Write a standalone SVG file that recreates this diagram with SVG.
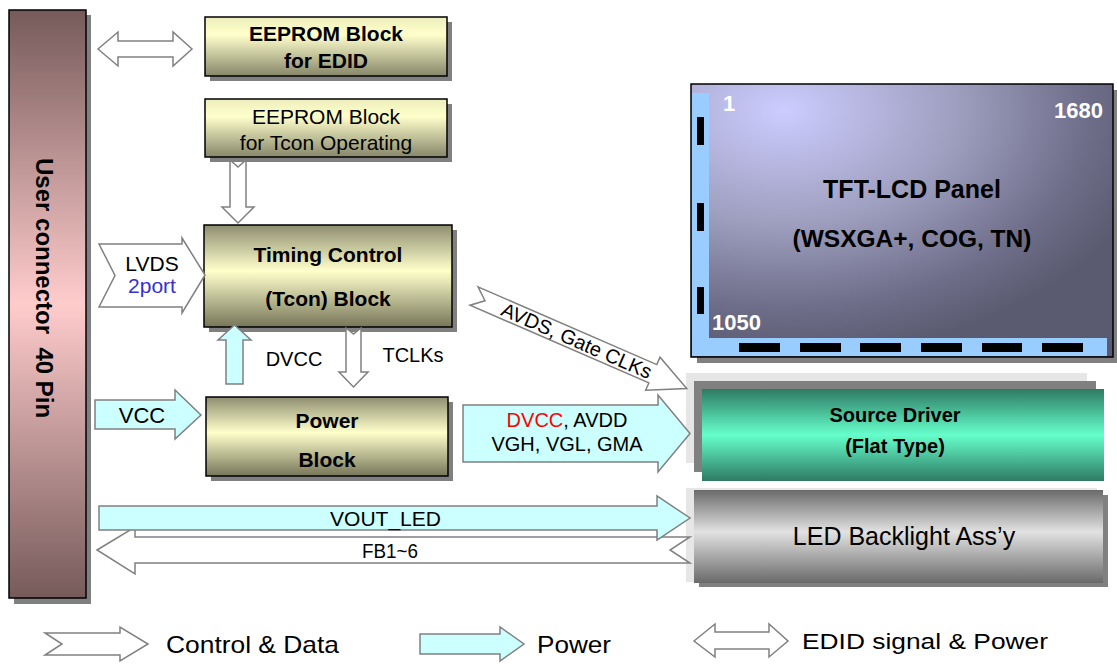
<svg xmlns="http://www.w3.org/2000/svg" width="1117" height="664" viewBox="0 0 1117 664">
<style>
text{font-family:"Liberation Sans",Arial,sans-serif;fill:#000}
.b{font-weight:bold}
.c{text-anchor:middle}
.w{fill:#fff;font-weight:bold}
.box{stroke:#000;stroke-width:1.5}
.sh{fill:#808080}
.ctl{fill:#fff;stroke:#808080;stroke-width:1.5;stroke-linejoin:miter}
.pwr{fill:#ccffff;stroke:#808080;stroke-width:1.5;stroke-linejoin:miter}
.tick{fill:#000}
</style>
<defs>
<linearGradient id="gUser" x1="0" y1="0" x2="0" y2="1">
<stop offset="0" stop-color="#765a5a"/><stop offset="0.5" stop-color="#ffcccc"/><stop offset="1" stop-color="#765a5a"/>
</linearGradient>
<linearGradient id="gYel" x1="0" y1="0" x2="0" y2="1">
<stop offset="0" stop-color="#8e8e70"/><stop offset="0.45" stop-color="#ffffcc"/><stop offset="1" stop-color="#76765a"/>
</linearGradient>
<linearGradient id="gYel2" x1="0" y1="0" x2="0" y2="1">
<stop offset="0" stop-color="#eeeebc"/><stop offset="0.3" stop-color="#ffffcc"/><stop offset="1" stop-color="#86866a"/>
</linearGradient>
<radialGradient id="gPanel" cx="0.22" cy="0.1" r="0.9" fx="0.22" fy="0.1">
<stop offset="0" stop-color="#ccccff"/><stop offset="0.45" stop-color="#9f9fc0"/><stop offset="0.8" stop-color="#6e6e8a"/><stop offset="1" stop-color="#5a5a70"/>
</radialGradient>
<linearGradient id="gGreen" x1="0" y1="0" x2="0" y2="1">
<stop offset="0" stop-color="#2e7a62"/><stop offset="0.5" stop-color="#66ffcc"/><stop offset="1" stop-color="#2e7a62"/>
</linearGradient>
<linearGradient id="gGray" x1="0" y1="0" x2="0" y2="1">
<stop offset="0" stop-color="#6a6a6a"/><stop offset="0.45" stop-color="#e2e2e2"/><stop offset="1" stop-color="#6a6a6a"/>
</linearGradient>
</defs>

<g id="user-connector">
<rect class="sh" x="14" y="15" width="77" height="589"/>
<rect class="box" x="9" y="10" width="77" height="588" fill="url(#gUser)"/>
<text class="b" x="158" y="-36" transform="rotate(90)" font-size="24" xml:space="preserve">User connector  40 Pin</text>
</g>

<g id="eeprom-edid">
<rect class="sh" x="210" y="22" width="242" height="59"/>
<rect class="box" x="205" y="17" width="242" height="59" fill="url(#gYel2)"/>
<text class="b c" x="326" y="41" font-size="21">EEPROM Block</text>
<text class="b c" x="326" y="68" font-size="21">for EDID</text>
</g>

<g id="eeprom-tcon">
<rect class="sh" x="210" y="104" width="242" height="58"/>
<rect class="box" x="205" y="99" width="242" height="58" fill="url(#gYel2)"/>
<text class="c" x="326" y="124" font-size="21">EEPROM Block</text>
<text class="c" x="326" y="150" font-size="21">for Tcon Operating</text>
</g>

<g id="timing-control">
<rect class="sh" x="209" y="230" width="248" height="102"/>
<rect class="box" x="204" y="225" width="248" height="102" fill="url(#gYel)"/>
<text class="b c" x="328" y="262" font-size="21">Timing Control</text>
<text class="b c" x="328" y="306" font-size="21">(Tcon) Block</text>
</g>

<g id="power-block">
<rect class="sh" x="211" y="402" width="242" height="79"/>
<rect class="box" x="206" y="397" width="242" height="79" fill="url(#gYel)"/>
<text class="b c" x="327" y="428" font-size="21">Power</text>
<text class="b c" x="327" y="467" font-size="21">Block</text>
</g>

<g id="tft-panel">
<rect class="sh" x="697" y="90" width="420" height="273"/>
<rect x="691" y="84" width="422" height="273" fill="url(#gPanel)" stroke="#000" stroke-width="1.5"/>
<rect x="692" y="93" width="17" height="263" fill="#99ccff"/>
<rect x="692" y="338" width="415" height="18" fill="#99ccff"/>
<rect class="tick" x="697" y="117" width="7" height="28"/>
<rect class="tick" x="697" y="203" width="7" height="28"/>
<rect class="tick" x="697" y="287" width="7" height="27"/>
<rect class="tick" x="739" y="343" width="41" height="9"/>
<rect class="tick" x="800" y="343" width="41" height="9"/>
<rect class="tick" x="860" y="343" width="41" height="9"/>
<rect class="tick" x="921" y="343" width="41" height="9"/>
<rect class="tick" x="982" y="343" width="40" height="9"/>
<rect class="tick" x="1042" y="343" width="41" height="9"/>
<text class="w" x="723" y="111" font-size="22">1</text>
<text class="w" x="1103" y="118" font-size="22" text-anchor="end">1680</text>
<text class="w" x="712" y="330" font-size="22">1050</text>
<text class="b c" x="912" y="198" font-size="25">TFT-LCD Panel</text>
<text class="b c" x="912" y="247" font-size="24.5">(WSXGA+, COG, TN)</text>
</g>

<g id="source-driver">
<rect x="686" y="373" width="401" height="90" fill="#e6e6e6"/>
<rect x="694" y="381" width="402" height="91" fill="#808080"/>
<rect x="702" y="389" width="402" height="92" fill="url(#gGreen)"/>
<text class="b c" x="895" y="422" font-size="20">Source Driver</text>
<text class="b c" x="895" y="453" font-size="20">(Flat Type)</text>
</g>

<g id="led-backlight">
<rect x="686" y="488" width="411" height="94" fill="#e6e6e6"/>
<rect x="699" y="495" width="409" height="92" fill="#808080"/>
<rect x="694" y="490" width="409" height="93" fill="url(#gGray)"/>
<text class="c" x="904" y="545" font-size="25">LED Backlight Ass’y</text>
</g>

<g id="connectors">
<path class="ctl" d="M98,49 L118,32 L118,41 L173,41 L173,32 L192,49 L173,66 L173,57 L118,57 L118,66 Z"/>
<path class="ctl" d="M230,160 L238,167 L246,160 L246,207 L254,207 L238,223 L222,207 L230,207 Z"/>
<path class="ctl" d="M99,244 L182,244 L182,238 L205,275 L182,313 L182,307 L99,307 L115,275.5 Z"/>
<text class="c" x="152" y="271" font-size="21">LVDS</text>
<text class="c" x="152" y="293" font-size="21" style="fill:#3333cc">2port</text>
<path class="pwr" d="M226,384 L226,340 L218,340 L234.5,325 L251,340 L243,340 L243,384 Z"/>
<text class="c" x="294" y="366" font-size="20">DVCC</text>
<path class="ctl" d="M346,328 L353.5,334 L361,328 L361,372 L368,372 L353.5,387 L339,372 L346,372 Z"/>
<text class="c" x="413" y="362" font-size="20">TCLKs</text>
<path class="pwr" d="M95,400 L175,400 L175,390 L201,415 L175,439 L175,429 L95,429 Z"/>
<text class="c" x="142" y="423" font-size="22">VCC</text>
<path class="pwr" d="M463,405 L658,405 L658,395 L690,433.5 L658,472 L658,462 L463,462 Z"/>
<text class="c" x="567" y="427" font-size="20"><tspan style="fill:#ff0000">DVCC</tspan>, AVDD</text>
<text class="c" x="567" y="451" font-size="20">VGH, VGL, GMA</text>
<g transform="translate(474,296) rotate(23.5)">
<path class="ctl" d="M0,-10 L195,-10 L195,-18 L232,0 L195,18 L195,10 L0,10 L12,0 Z"/>
<text class="c" x="112" y="7" font-size="20">AVDS, Gate CLKs</text>
</g>
<path class="ctl" d="M97,550 L135,527 L135,537 L690,537 L670,550 L690,563 L135,563 L135,574 Z"/>
<path class="pwr" d="M99,506 L657,506 L657,496 L690,518 L657,540 L657,530 L99,530 Z"/>
<text x="330" y="526" font-size="21" textLength="111" lengthAdjust="spacingAndGlyphs">VOUT_LED</text>
<text x="362" y="558" font-size="20" textLength="56" lengthAdjust="spacingAndGlyphs">FB1~6</text>
</g>

<g id="legend">
<path class="ctl" d="M45,633 L120,633 L120,627 L148,644 L120,661 L120,655 L45,655 L62,644 Z"/>
<text x="166" y="653" font-size="24" textLength="173" lengthAdjust="spacingAndGlyphs">Control &amp; Data</text>
<path class="pwr" d="M420,634 L500,634 L500,627 L524,644 L500,661 L500,654 L420,654 Z"/>
<text x="537" y="653" font-size="24" textLength="74" lengthAdjust="spacingAndGlyphs">Power</text>
<path class="ctl" d="M694,641 L715,624 L715,632 L769,632 L769,624 L788,641 L769,657 L769,649 L715,649 L715,657 Z"/>
<text x="802" y="649" font-size="22" textLength="246" lengthAdjust="spacingAndGlyphs">EDID signal &amp; Power</text>
</g>
</svg>
